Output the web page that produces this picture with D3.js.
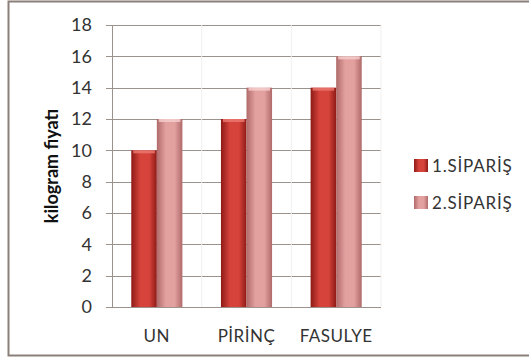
<!DOCTYPE html>
<html>
<head>
<meta charset="utf-8">
<script src="https://cdn.jsdelivr.net/npm/d3@7"></script>
<style>
  body { margin: 0; background: #fff; }
  svg { display: block; }
  text { font-family: Lato, "Open Sans", sans-serif; fill: #222; }
</style>
</head>
<body>
<div id="chart"></div>
<script>
var width = 529,
    height = 361;

// data
var categories = ["UN", "PİRİNÇ", "FASULYE"];
var seriesNames = ["1.SİPARİŞ", "2.SİPARİŞ"];
var siparis1 = [10, 12, 14];
var siparis2 = [12, 14, 16];
var yTicks = [0, 2, 4, 6, 8, 10, 12, 14, 16, 18];

var series = [siparis1, siparis2];

var svg = d3.select("#chart").append("svg")
    .attr("width", width)
    .attr("height", height);

var defs = svg.append("defs");
var colors = [
  { id: "g0", edge: "#8e1a17", mid: "#d6433b", top: "#ec7b73" },
  { id: "g1", edge: "#b06a6a", mid: "#e2a09f", top: "#f6d0ce" }
];
colors.forEach(function(c) {
  var g = defs.append("linearGradient").attr("id", c.id)
      .attr("x1", "0").attr("x2", "1").attr("y1", "0").attr("y2", "0");
  g.append("stop").attr("offset", "0%").attr("stop-color", c.edge);
  g.append("stop").attr("offset", "35%").attr("stop-color", c.mid);
  g.append("stop").attr("offset", "70%").attr("stop-color", c.mid);
  g.append("stop").attr("offset", "100%").attr("stop-color", c.edge);
});

// frame
svg.append("rect")
    .attr("x", 8.5).attr("y", 1.5)
    .attr("width", 530).attr("height", 354)
    .attr("fill", "#fff")
    .attr("stroke", "#8a8079")
    .attr("stroke-width", 2);

var x = d3.scaleBand()
    .domain(categories)
    .range([112, 381])
    .paddingInner(0.43)
    .paddingOuter(0.215);

var xs = d3.scaleBand()
    .domain(d3.range(series.length))
    .range([0, x.bandwidth()]);

var y = d3.scaleLinear()
    .domain([0, 18])
    .range([307, 25]);

// grid
svg.append("g").selectAll("line")
    .data(yTicks)
    .enter().append("line")
    .attr("x1", 106).attr("x2", 381)
    .attr("y1", function(d) { return Math.round(y(d)) + 0.5; })
    .attr("y2", function(d) { return Math.round(y(d)) + 0.5; })
    .attr("stroke", "#9c928c")
    .attr("stroke-width", 1);

// faint vertical separators
svg.append("g").selectAll("line")
    .data([1, 2, 3])
    .enter().append("line")
    .attr("x1", function(i) { return 112 + i * x.step(); })
    .attr("x2", function(i) { return 112 + i * x.step(); })
    .attr("y1", y(18)).attr("y2", y(0))
    .attr("stroke", "#f0f0f0");

svg.append("line")
    .attr("x1", 112.5).attr("x2", 112.5)
    .attr("y1", y(18)).attr("y2", y(0))
    .attr("stroke", "#9c928c");

// y tick labels
svg.append("g").selectAll("text")
    .data(yTicks)
    .enter().append("text")
    .attr("x", 92)
    .attr("y", function(d) { return y(d); })
    .attr("dy", "0.36em")
    .attr("text-anchor", "end")
    .style("font-size", "18px")
    .style("fill", "#333")
    .text(function(d) { return d; });

// bars
series.forEach(function(vals, s) {
  var grp = svg.append("g");
  grp.selectAll("rect.bar")
      .data(vals)
      .enter().append("rect")
      .attr("class", "bar")
      .attr("x", function(d, i) { return x(categories[i]) + xs(s); })
      .attr("y", function(d) { return y(d); })
      .attr("width", xs.bandwidth())
      .attr("height", function(d) { return y(0) - y(d); })
      .attr("fill", "url(#" + colors[s].id + ")");
  grp.selectAll("rect.cap")
      .data(vals)
      .enter().append("rect")
      .attr("class", "cap")
      .attr("x", function(d, i) { return x(categories[i]) + xs(s) + 2; })
      .attr("y", function(d) { return y(d); })
      .attr("width", xs.bandwidth() - 4)
      .attr("height", 3)
      .attr("fill", colors[s].top)
      .attr("opacity", 0.8);
});

// x labels
svg.append("g").selectAll("text")
    .data(categories)
    .enter().append("text")
    .attr("x", function(d) { return x(d) + x.bandwidth() / 2; })
    .attr("y", 342)
    .attr("text-anchor", "middle")
    .style("font-size", "17px")
    .style("letter-spacing", "0.5px")
    .style("fill", "#333")
    .text(function(d) { return d; });

// y title
svg.append("text")
    .attr("transform", "translate(58,166) rotate(-90)")
    .attr("text-anchor", "middle")
    .style("font-size", "18px")
    .style("font-weight", "bold")
    .style("fill", "#111")
    .text("kilogram fiyatı");

// legend
var legend = svg.append("g").selectAll("g")
    .data(seriesNames)
    .enter().append("g")
    .attr("transform", function(d, i) { return "translate(414," + (166 + i * 37) + ")"; });

legend.append("rect")
    .attr("x", 0).attr("y", -7)
    .attr("width", 14).attr("height", 13)
    .attr("fill", function(d, i) { return "url(#" + colors[i].id + ")"; });

legend.append("text")
    .attr("x", 18)
    .attr("dy", "0.36em")
    .style("font-size", "17px")
    .style("letter-spacing", "0.8px")
    .style("fill", "#333")
    .text(function(d) { return d; });
</script>
</body>
</html>
